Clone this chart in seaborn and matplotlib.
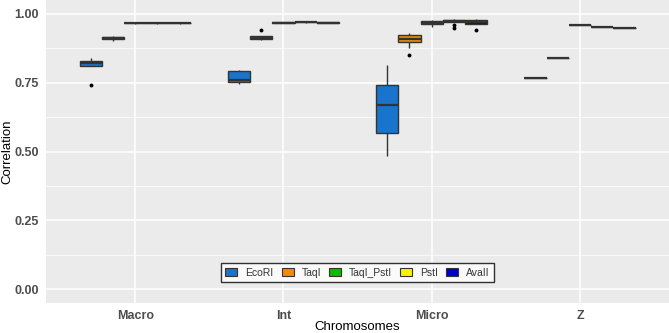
import pandas as pd
import seaborn as sns
import matplotlib.pyplot as plt
from matplotlib.patches import Patch
from matplotlib.ticker import MultipleLocator

# chromosome groups and enzymes
groups = ['Macro', 'Int', 'Micro', 'Z']
enzymes = ['EcoRI', 'TaqI', 'TaqI_PstI', 'PstI', 'AvaII']
colors = ['#1874CD', '#F08C00', '#00C000', '#F5F500', '#0000CD']

# correlation values per enzyme, keyed by chromosome group
ecori = {'Macro': [0.743, 0.81, 0.818, 0.822, 0.83, 0.838],
         'Int': [0.746, 0.754, 0.76, 0.793, 0.795],
         'Micro': [0.482, 0.566, 0.669, 0.743, 0.814],
         'Z': [0.766]}
taqi = {'Macro': [0.90, 0.906, 0.91, 0.914, 0.917, 0.92],
        'Int': [0.904, 0.907, 0.913, 0.92, 0.94],
        'Micro': [0.85, 0.877, 0.899, 0.903, 0.908, 0.915, 0.922, 0.926, 0.93],
        'Z': [0.84]}
taqi_psti = {'Macro': [0.963, 0.965, 0.966, 0.967, 0.968],
             'Int': [0.966, 0.967, 0.968, 0.969, 0.970],
             'Micro': [0.953, 0.962, 0.968, 0.975, 0.978],
             'Z': [0.959]}
psti = {'Macro': [0.964, 0.966, 0.967, 0.968, 0.969],
        'Int': [0.968, 0.969, 0.970, 0.971, 0.972],
        'Micro': [0.95, 0.958, 0.971, 0.973, 0.975, 0.977, 0.979, 0.981, 0.982],
        'Z': [0.953]}
avaii = {'Macro': [0.963, 0.965, 0.966, 0.967, 0.968],
         'Int': [0.966, 0.967, 0.968, 0.969, 0.970],
         'Micro': [0.94, 0.963, 0.97, 0.976, 0.98],
         'Z': [0.948]}

rows = []
for enz, d in zip(enzymes, [ecori, taqi, taqi_psti, psti, avaii]):
    for g in groups:
        for v in d[g]:
            rows.append({'Chromosomes': g, 'Enzyme': enz, 'Correlation': v})
df = pd.DataFrame(rows)

sns.set_theme(style="darkgrid")
plt.rcParams['font.family'] = ['Liberation Sans', 'DejaVu Sans']

fig = plt.figure(figsize=(6.69, 3.33), dpi=100)
ax = fig.add_axes([0.069, 0.09, 0.931, 0.91])
ax.set_facecolor('#EBEBEB')

sns.boxplot(data=df, x='Chromosomes', y='Correlation', hue='Enzyme',
            order=groups, hue_order=enzymes, palette=colors,
            width=0.75, gap=0, linewidth=1, linecolor='#333333',
            saturation=1, showcaps=False, ax=ax,
            medianprops=dict(color='#333333', linewidth=1.6),
            flierprops=dict(marker='o', markersize=1.8, markerfacecolor='black',
                            markeredgecolor='black'))

ax.set_xlim(-0.6, 3.6)
ax.set_ylim(-0.05, 1.05)
ax.yaxis.set_major_locator(MultipleLocator(0.25))
ax.yaxis.set_minor_locator(MultipleLocator(0.125))
ax.grid(which='major', color='white', linewidth=1.1)
ax.grid(which='minor', axis='y', color='white', linewidth=0.5)
ax.set_axisbelow(True)
for s in ax.spines.values():
    s.set_visible(False)

ax.set_yticks([0, 0.25, 0.5, 0.75, 1.0])
ax.set_yticklabels(['0.00', '0.25', '0.50', '0.75', '1.00'])
ax.tick_params(axis='both', which='major', length=3, color='#333333', width=0.8,
               labelsize=9, labelcolor='#4D4D4D', pad=2)
ax.tick_params(which='minor', length=0)
for lab in ax.get_xticklabels() + ax.get_yticklabels():
    lab.set_fontweight('bold')

ax.set_xlabel('Chromosomes', fontsize=9.5, color='black', va='bottom')
ax.xaxis.set_label_coords(0.5, -0.098)
ax.set_ylabel('Correlation', fontsize=9.5, color='black', labelpad=1)

handles = [Patch(facecolor=c, edgecolor='#333333', linewidth=0.8) for c in colors]
leg = ax.legend(handles, enzymes, loc='lower center', bbox_to_anchor=(0.5, 0.07),
                ncol=5, frameon=True, fancybox=False, fontsize=7.5,
                handlelength=1.15, handleheight=0.9, handletextpad=0.75,
                columnspacing=0.8, borderpad=0.4, borderaxespad=0,
                labelcolor='#333333')
leg.get_frame().set_edgecolor('black')
leg.get_frame().set_linewidth(1)
leg.get_frame().set_facecolor('white')

fig.savefig('out.png', dpi=100)
